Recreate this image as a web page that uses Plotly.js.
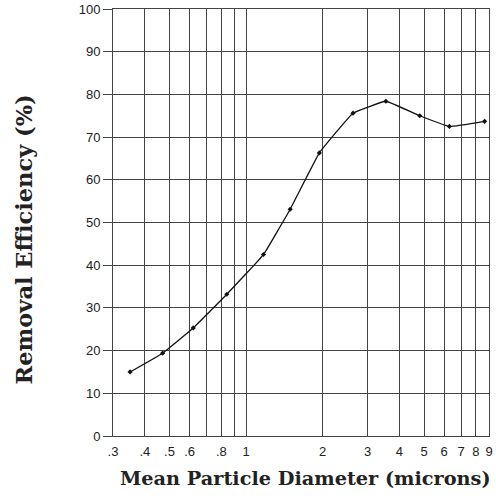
<!DOCTYPE html>
<html>
<head>
<meta charset="utf-8">
<script src="https://cdn.plot.ly/plotly-3.0.1.min.js"></script>
<style>html,body{margin:0;padding:0;background:#fff;}#chart{width:496px;height:502px;}</style>
</head>
<body>
<div id="chart"></div>
<script>
var diameters = [0.35, 0.47, 0.62, 0.84, 1.17, 1.49, 1.94, 2.63, 3.54, 4.81, 6.29, 8.65];
var efficiency = [15.0, 19.4, 25.3, 33.2, 42.5, 53.1, 66.3, 75.6, 78.4, 75.0, 72.5, 73.7];
var xTickVals = [0.3, 0.4, 0.5, 0.6, 0.7, 0.8, 0.9, 1, 2, 3, 4, 5, 6, 7, 8, 9];
var xTickText = ['.3', '.4', '.5', '.6', '', '.8', '', '1', '2', '3', '4', '5', '6', '7', '8', '9'];
var yTickVals = [0, 10, 20, 30, 40, 50, 60, 70, 80, 90, 100];

var trace = {
  x: diameters,
  y: efficiency,
  type: 'scatter',
  mode: 'lines+markers',
  line: {color: '#111', width: 1.3, shape: 'spline', smoothing: 0.25},
  marker: {color: '#111', size: 4, symbol: 'diamond'},
  hoverinfo: 'skip'
};

var titleFont = 'DejaVu Serif, serif';

var layout = {
  width: 496,
  height: 502,
  margin: {l: 113, r: 7, t: 9, b: 66},
  paper_bgcolor: '#fff',
  plot_bgcolor: '#fff',
  showlegend: false,
  font: {family: 'Liberation Sans, Arial, sans-serif', color: '#222', size: 13},
  xaxis: {
    type: 'log',
    range: [Math.log10(0.3), Math.log10(9)],
    tickmode: 'array',
    tickvals: xTickVals,
    ticktext: xTickText,
    ticks: '',
    ticklabelstandoff: 3,
    showgrid: true,
    gridcolor: '#444',
    gridwidth: 1,
    showline: true,
    linecolor: '#444',
    linewidth: 1,
    mirror: true,
    zeroline: false,
    tickfont: {size: 13, color: '#222'}
  },
  yaxis: {
    range: [0, 100],
    tickmode: 'array',
    tickvals: yTickVals,
    ticks: 'outside',
    ticklen: 9,
    tickcolor: '#444',
    showgrid: true,
    gridcolor: '#444',
    gridwidth: 1,
    showline: true,
    linecolor: '#444',
    linewidth: 1,
    mirror: true,
    zeroline: false,
    tickfont: {size: 13, color: '#222'}
  },
  annotations: [{
    text: 'Removal Efficiency (%)',
    textangle: -90,
    xref: 'paper', yref: 'paper',
    x: 0, y: 0.5,
    xanchor: 'center', yanchor: 'middle',
    xshift: -90, yshift: -17,
    showarrow: false,
    font: {family: titleFont, size: 22.5, color: '#222', weight: 'bold'}
  }, {
    text: 'Mean Particle Diameter (microns)',
    xref: 'paper', yref: 'paper',
    x: 0.5, y: 0,
    xanchor: 'center', yanchor: 'middle',
    xshift: 4, yshift: -42,
    showarrow: false,
    font: {family: titleFont, size: 19.3, color: '#222', weight: 'bold'}
  }]
};

Plotly.newPlot('chart', [trace], layout, {displayModeBar: false, staticPlot: true});
</script>
</body>
</html>
